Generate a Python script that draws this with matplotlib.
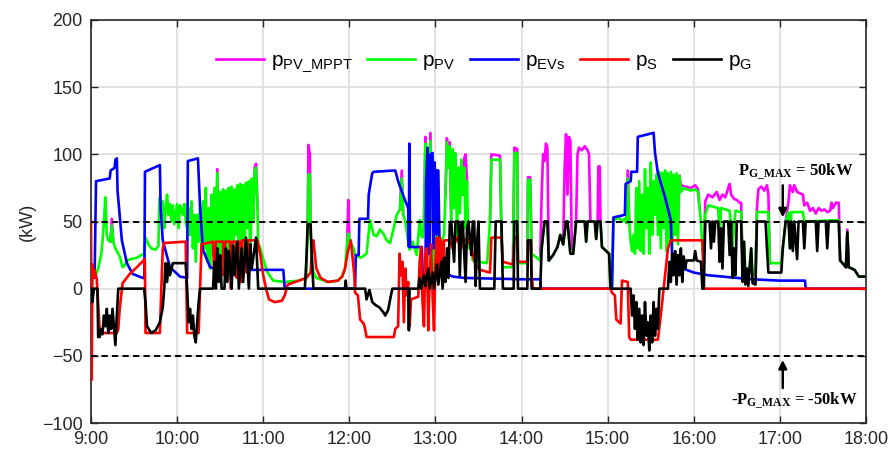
import numpy as np
import matplotlib
matplotlib.use("Agg")
import matplotlib.pyplot as plt

plt.rcParams['font.family'] = ['Liberation Sans', 'DejaVu Sans']

# time in minutes after 9:00
x_ticks = [0, 60, 120, 180, 240, 300, 360, 420, 480, 540]
x_labels = ["9:00", "10:00", "11:00", "12:00", "13:00", "14:00", "15:00", "16:00", "17:00", "18:00"]
y_ticks = [-100, -50, 0, 50, 100, 150, 200]

p_evs = [(0,9),(2.5,8),(3.5,80),(13,82),(13.7,88),(16.5,90),(17,96),(18,97),(18.5,73),(21.5,36),(25,19),(29,11),(36,8),(37.2,8),
         (37.6,87),(48,92),(48.5,60),(50,36),(55,16),(62,9),(67,8),(67.5,95),(74.5,97),(76,61),(78,29),(83,16),(88,14),(134,14),(135,0),
         (184,0),(184.5,25),(186.5,25),(187,52),(193,52),(193.5,70),(195,80),(196,86),(197,87),(212,88),(214,80),(218,68),(221,60),
         (221.5,31),(221.8,108),(222.3,31),(230.5,31),(231.5,0),(233,0),(233.5,80),(234.5,105),(235,26),(236,26),(236.5,100),(238,101),
         (238.5,30),(239.5,94),(240.5,40),(241,88),(242,88),(243,20),(245,19),(248,11),(252,9),(260,8),(300,7),(313,7),(313.5,0),
         (363,0),(364,53),(372,55),(372.5,78),(376,80),(376.5,87),(380.5,87),(381,113),(392,116),(393,101),(395,86),(400,68),(404,51),
         (405,21),(410,16),(420,12),(430,10),(440,9),(460,7),(480,6),(497.5,6),(498,0),(540,0)]

p_s = [(0,50),(0.5,-68),(1,18),(1.5,8),(2.5,14),(4,7),(6,-30),(8,-33),(18,-33),(19,-30),(20,-15),(22,4),(27,11),(32,16),(37.5,22),
       (38,-33),(48,-33),(49,0),(50,30),(51,34),(66,35),(67,-33),(75,-33),(76,0),(77,33),(85,35),(86,5),(87,35),(92,35),(92.5,10),
       (93.5,35),(97,35),(97.5,0),(98.5,35),(101,35),(101.5,8),(102.5,35),(104,35),(104.5,5),(105.5,36),(108,36),(108.5,12),(109.5,36),
       (116,36),(118,25),(120,10),(122,0),(124,-8),(128,-10),(133,-9),(135,-5),(137,3),(145,6),(150,8),(153,12),(154,30),(155,36),
       (156,25),(157,15),(160,8),(165,5),(172,6),(175,9),(177,15),(179,28),(181,36),(183.5,10),(184,-3),(186,-5),(187.5,-23),(190,-26),
       (191,-30),(192,-36),(211,-36),(212,-30),(214,-28),(215,26),(216,10),(217,20),(218,-25),(219,15),(220,-5),(221,5),(222,-28),
       (223,-8),(228,-6),(229,20),(230,31),(231,-10),(232,-28),(233,25),(234,30),(235,-31),(236,10),(237,33),(238,-5),(239,-31),
       (240,20),(241,38),(242,10),(243,38),(244,35),(245,5),(246,36),(250,36),(252,30),(255,38),(258,30),(260,36),(263,37),(266,25),
       (268,18),(271,14),(278,12),(279,38),(286,38),(287,20),(294,18),(295,38),(297,38),(297.5,20),(304,20),(304.5,36),(306.5,36),
       (307,10),(308,0),(362,0),(363,-3),(365,-5),(366,-23),(369,-26),(370,6),(374,5),(375,-36),(376,-38),(395,-38),(397,-20),
       (400,10),(402,30),(404,36),(426,36),(427,0),(540,0)]

p_g = [(0,0),(1,-10),(2,0),(4.5,0),(5,-36),(6,-36),(7,-30),(8,-34),(9,-20),(10,-28),(11,-15),(12,-33),(13,-20),(14,-30),(15,-15),
       (17,-42),(18,-20),(19,0),(37,0),(38,-10),(39,-28),(42,-33),(45,-31),(48,-25),(50,-14),(51,0),(52,19),(53,5),(54,19),(55,10),
       (57,19),(66,19),(67,0),(68,-25),(69,-15),(70,-30),(71,-20),(72,-35),(73,-40),(74,-25),(75,-10),(76,0),(85,0),(86,20),(87,0),
       (88,30),(89,5),(90,25),(91,0),(93,0),(94,30),(95,5),(96,28),(98,0),(99,32),(100,10),(102,35),(103,0),(105,30),(106,5),(108,38),
       (110,0),(111,33),(112,15),(114,30),(115,38),(116.5,0),(149,0),(150,20),(151,48),(153,48),(154,20),(155,0),(177,0),(177.5,6),
       (178,0),(191,0),(192,-8),(194,-1),(196,-10),(198,-12),(201,-14),(204,-18),(205,-20),(207,-16),(209,-5),(210,0),(221,0),
       (221.5,-31),(222,0),(228,0),(229,8),(230,0),(232,10),(233,2),(235,15),(236,0),(238,12),(239,0),(241,18),(242,3),(244,20),
       (245,0),(246,23),(247,5),(248,30),(249,8),(250,48),(251,50),(253,20),(254,50),(256,50),(257,10),(258,48),(259,50),(261,5),
       (262,45),(263,50),(265,25),(266,50),(267,50),(268,2),(269,35),(270,50),(271,0),(281,0),(282,50),(286,50),(287,0),(294.5,0),
       (295,50),(297,50),(297.5,0),(304,0),(304.5,36),(306.5,36),(307,0),(313,0),(314,30),(316,50),(318,50),(319,21),(322,25),
       (325,31),(327,40),(329,33),(331,50),(332,50),(334,26),(336,26),(338,50),(344,50),(345,35),(346,50),(351,50),(352,37),(353,50),
       (355,50),(356,31),(359,28),(361,26),(362,0),(376,0),(377,-20),(378,-5),(379,-30),(380,-10),(381,-38),(382,-15),(383,-40),
       (384,-20),(385,-42),(386,-10),(387,-35),(388,-25),(389,-46),(390,-20),(391,-40),(392,-10),(393,-35),(394,-15),(395,-30),
       (396,0),(402,0),(403,20),(404,5),(405,26),(406,10),(407,28),(408,3),(409,25),(410,10),(411,30),(412,5),(413,24),(414,15),
       (415,21),(420,21),(421,28),(422,21),(425,20),(426,0),(427,0),(428,50),(431,50),(432,30),(433,50),(434,35),(435,50),(437,50),
       (438,20),(439,45),(440,15),(441,50),(444,50),(445,25),(446,50),(447,8),(448,30),(449,10),(450,50),(453,50),(454,5),(455,35),
       (456,3),(457,15),(458,2),(460,30),(461,4),(463,3),(464,50),(470,50),(471,30),(472,12),(481,12),(482,30),(484,50),(486,50),
       (487,30),(488,50),(489,28),(490,50),(492,22),(493,50),(496,50),(497,30),(498,50),(505,50),(506,28),(507,50),(512,50),(513,30),
       (514,50),(521,50),(522,21),(526,16),(527,42),(528,16),(532,14),(535,9),(540,9)]

p_pv = [(0,8),(3,9),(5,15),(7,25),(8,35),(9,50),(10,68),(11,40),(12,36),(13.5,35),(14.5,47),(15.5,35),(17,30),(20,24),(22,16),
        (24,18),(25,21),(28,22),(32,23),(35,25),(37,26),(38,38),(40,33),(42,30),(45,29),(47,32),(47.5,62),(48,68),(49,55),(50,65),
        (51,45),(52,60),(53,70),(54,55),(55,63),(56,50),(57,62),(58,48),(60,63),(61,45),(62,62),(64,55),(65,63),(66,50),(67,45),
        (68,60),(69,40),(70,65),(71,30),(72,55),(73,20),(74,55),(75,35),(76,60),(77,25),(78,65),(79,30),(80,75),(81,20),(82,60),
        (83,15),(84,70),(85,25),(86,75),(87,30),(88,86),(89,20),(90,72),(91,10),(92,74),(93,30),(94,73),(95,8),(96,75),(97,35),
        (98,76),(99,15),(100,74),(101,40),(102,77),(103,10),(104,78),(105,30),(106,77),(107,20),(108,79),(109,45),(110,80),(111,15),
        (112,82),(113,50),(114,88),(115,90),(116,60),(116.5,34),(118,30),(120,22),(123,12),(127,6),(135,5),(145,6),(150,8),(151,50),
        (151.5,85),(152.5,85),(153,40),(154,20),(155,12),(157,8),(165,5),(172,6),(175,9),(177,15),(178.5,35),(179.3,41),(180,36),
        (183,30),(184,25),(188,23),(192,26),(194.4,51),(197,40),(199,39),(201.4,44),(203.7,41),(206,36),(208.4,34),(210.7,44),
        (213,55),(215.3,59),(216.5,82),(217.5,55),(218.8,51),(222,29),(224,35),(227,25),(229,51),(230,40),(231,38),(232,50),
        (233,108),(234,21),(235,30),(236.5,110),(237.5,51),(238,88),(239,13),(240,76),(241,15),(242,60),(243,30),(244,35),(246,40),
        (247,70),(248,109),(249,90),(250,106),(251,51),(252,104),(253,60),(254,101),(255,40),(256,90),(257,56),(258,96),(259,70),
        (260,90),(261,45),(262,80),(263,30),(264,40),(266,21),(270,20),(276,19),(278,50),(279,96),(285,96),(286,40),(287,16),
        (294,16),(295,101),(297,101),(297.5,19),(304,19),(304.5,81),(306,81),(307,26),(313,21),(314,30),(316,50),(318,50),(319,21),
        (322,25),(325,31),(327,40),(329,33),(331,50),(332,50),(334,26),(336,26),(338,50),(344,50),(345,35),(346,50),(351,50),
        (352,37),(353,50),(355,50),(356,31),(359,28),(361,26),(362,0),(363,2),(364,50),(366,52),(368,53),(370,50),(372,52),(373,49),
        (374,82),(375,50),(376,35),(377,28),(378,40),(379,26),(380,75),(381,30),(382,80),(383,28),(384,70),(385,26),(386,89),
        (387,45),(388,75),(389,26),(390,94),(391,40),(392,80),(393,55),(394,85),(395,40),(396,87),(397,30),(398,86),(399,45),
        (400,88),(401,28),(402,86),(403,35),(404,87),(405,30),(406,85),(407,40),(408,86),(409,33),(410,84),(411,72),(413,75),
        (415,74),(418,73),(421,74),(423,72),(424,60),(425,50),(426,30),(427,20),(428,55),(430,62),(437,60),(438,40),(439,60),
        (445,58),(447,30),(448,45),(449,58),(453,57),(454,20),(455,35),(456,12),(458,8),(460,30),(461,10),(463,12),(464,57),
        (472,57),(473,19),(481,19),(482,30),(484,50),(486,57),(487,30),(488,57),(496,57),(497,50),(521,51),(522,21),(526,16),
        (527,42),(528,16),(532,14),(535,9),(540,9)]

# MPPT power: only the stretches where it rises above p_PV (hidden under p_PV elsewhere)
p_pv_mppt_segments = [
    [(13.5,35),(14.5,52),(15.5,35)],
    [(87,30),(88,89),(89,20)],
    [(113,50),(114,90),(115,93),(116,60)],
    [(151,50),(151.5,107),(152.5,100),(153,40)],
    [(178.5,35),(179.3,66),(180,36)],
    [(215.3,59),(216.5,88),(217.5,55)],
    [(232,50),(233,113),(234,21)],
    [(235,30),(236.5,116),(237.5,51)],
    [(247,70),(248,112),(249,90),(250,109),(251,51)],
    [(259,70),(260,97),(261,100),(262,80)],
    [(278,50),(279,100),(285,99),(286,40)],
    [(294,16),(295,105),(297,104),(297.5,19)],
    [(304,19),(304.5,83),(306,83),(307,26)],
    [(313,21),(314,70),(315,100),(316,95),(317,108),(318,105),(319,21)],
    [(329,33),(330,90),(331,115),(332,70),(333,113),(334,110),(335,30)],
    [(338,50),(339,100),(340,105),(342,103),(344,106),(346,103),(347,100),(348,50)],
    [(353,50),(353.5,91),(354.5,91),(355,50)],
    [(373,49),(374,88),(375,50)],
    [(410,84),(411,77),(414,76),(418,75),(421,77),(423,74),(424,60)],
    [(427,20),(428,65),(430,70),(433,68),(436,72),(438,66),(440,70),(442,68),(444,75),(445,78),(446,70),(448,67),
     (450,66),(452,64),(453,64),(454,20)],
    [(463,12),(464,60),(465,74),(467,76),(469,73),(471,77),(472,70),(473,19)],
    [(484,50),(486,65),(487,77),(489,72),(490,77),(492,72),(494,71),(496,70),(497,62),(499,64),(501,58),(503,60),
     (505,56),(507,60),(509,58),(511,59),(513,57),(515,58),(516,64),(517,60),(519,64),(521,64),(522,21)],
    [(526,16),(527,44),(528,16)],
]

fig = plt.figure(figsize=(8.96, 4.63), dpi=100)
ax = fig.add_axes([91/896, 1-423/463, (866-91)/896, (423-20)/463])

lw = 1.9
mt, mv = [], []
for seg in p_pv_mppt_segments:
    t, v = zip(*seg)
    mt += list(t) + [np.nan]
    mv += list(v) + [np.nan]
ax.plot(mt, mv, color='#ff00ff', lw=lw, label=r'$\mathregular{p_{PV\_MPPT}}$', zorder=3)

for data, col, lab, z in [(p_pv, '#00ff00', r'$\mathregular{p_{PV}}$', 4),
                          (p_evs, '#0000ff', r'$\mathregular{p_{EVs}}$', 5),
                          (p_s, '#ff0000', r'$\mathregular{p_{S}}$', 6),
                          (p_g, '#000000', r'$\mathregular{p_{G}}$', 7)]:
    t, v = zip(*data)
    ax.plot(t, v, color=col, lw=lw, label=lab, zorder=z)

ax.axhline(50, color='black', ls=(0, (3.2, 2.2)), lw=1.4, zorder=8)
ax.axhline(-50, color='black', ls=(0, (3.2, 2.2)), lw=1.4, zorder=8)

ax.set_xlim(0, 540)
ax.set_ylim(-100, 200)
ax.set_xticks(x_ticks)
ax.set_xticklabels(x_labels)
ax.set_yticks(y_ticks)
ax.grid(True, color='#dcdcdc', lw=1.2, zorder=0)
ax.set_axisbelow(True)
ax.tick_params(direction='in', top=True, right=True, length=5, width=1,
               labelsize=13, colors='#262626', pad=6)
for s in ax.spines.values():
    s.set_color('#262626')
    s.set_linewidth(1.2)
ax.set_ylabel('(kW)', fontsize=13, color='#262626', labelpad=4)

leg = ax.legend(ncol=5, frameon=False, fontsize=15, loc='upper center',
                bbox_to_anchor=(0.507, 0.97), handlelength=2.3, handletextpad=0.35,
                columnspacing=0.7)

fig.text(796/896, 1-172/463, r'$\mathregular{P_{G\_MAX}}$ = 50kW', fontsize=12,
         family='Liberation Serif', weight='bold', ha='center', va='center')
ax.annotate('', xy=(482, 51), xytext=(482, 79),
            arrowprops=dict(arrowstyle='-|>', color='black', lw=1.8, mutation_scale=12), zorder=9)
ax.annotate('', xy=(482, -51), xytext=(482, -76),
            arrowprops=dict(arrowstyle='-|>', color='black', lw=1.8, mutation_scale=12), zorder=9)
fig.text(794/896, 1-401/463, r'-$\mathregular{P_{G\_MAX}}$ = -50kW', fontsize=12,
         family='Liberation Serif', weight='bold', ha='center', va='center')

fig.savefig('out.png', dpi=100)
